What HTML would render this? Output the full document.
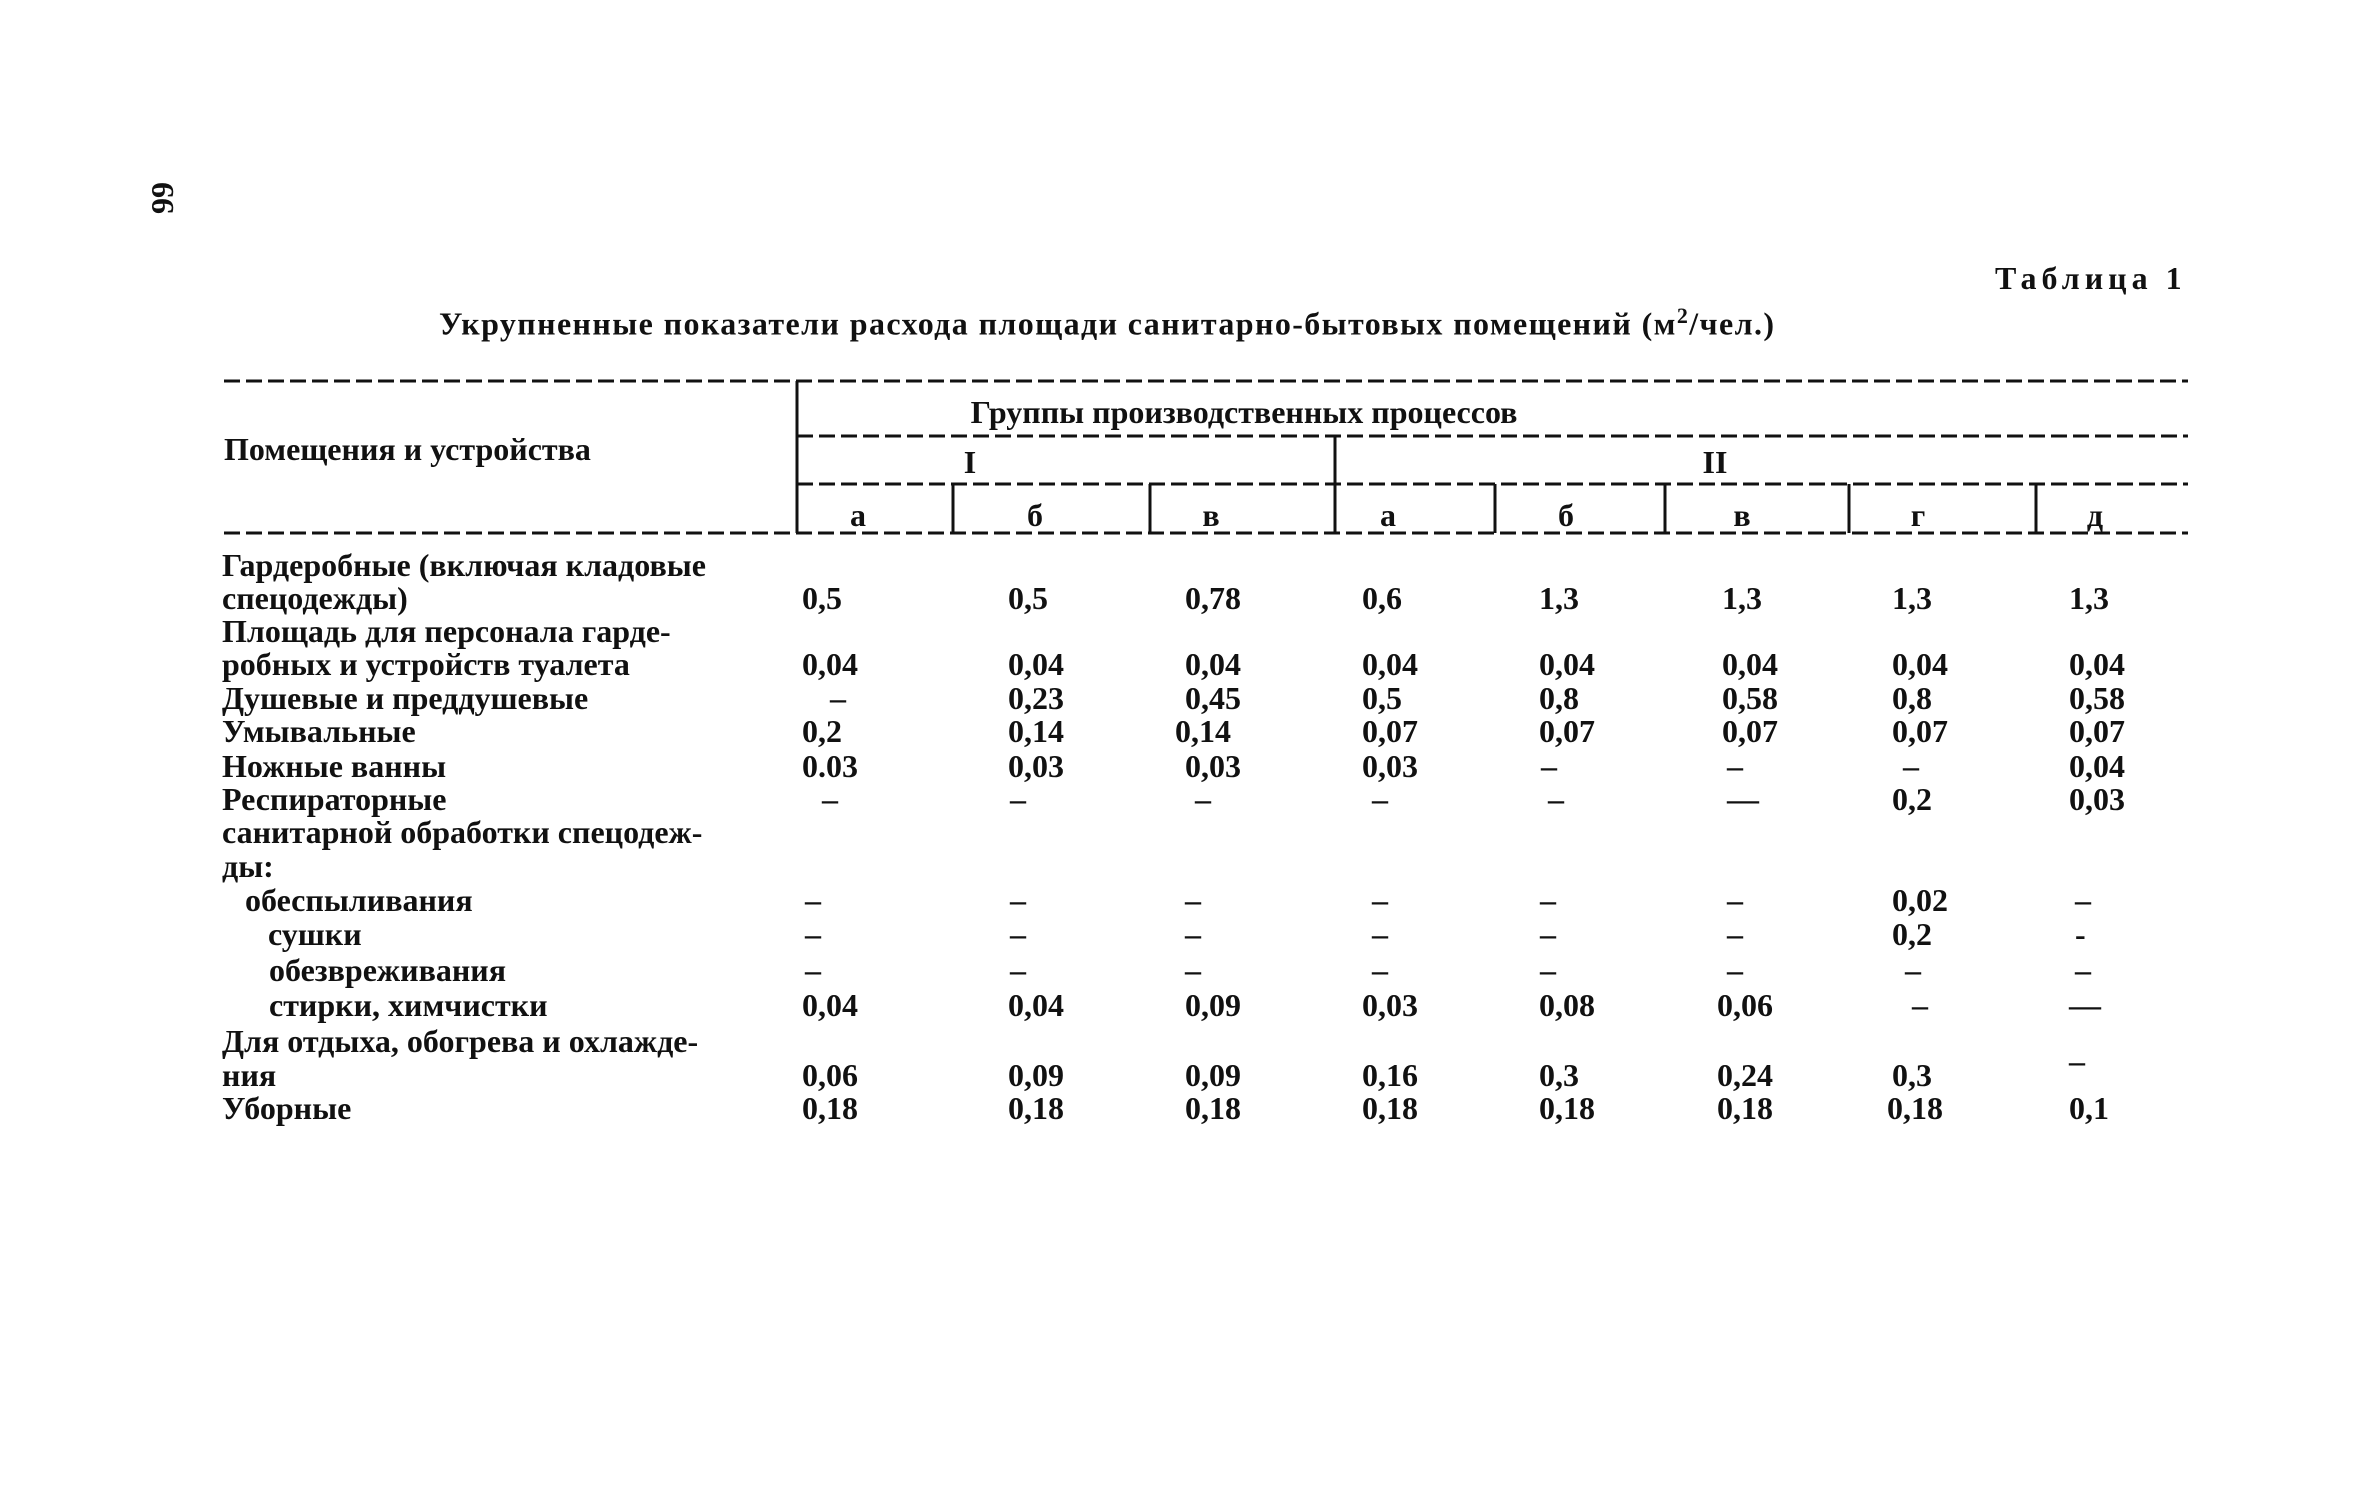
<!DOCTYPE html>
<html><head><meta charset="utf-8">
<style>
html,body{margin:0;padding:0;background:#fff;}
body{width:2361px;height:1500px;position:relative;overflow:hidden;font-family:"Liberation Serif",serif;font-weight:bold;color:#111;}
.t{position:absolute;font-size:32px;line-height:32px;white-space:nowrap;}
.c{transform:translateX(-50%);}
svg{position:absolute;left:0;top:0;}
</style></head><body>
<svg width="2361" height="1500">
<g stroke="#111" stroke-width="3" stroke-dasharray="16 6" fill="none">
<line x1="224" y1="381" x2="2188" y2="381"/>
<line x1="797" y1="436" x2="2188" y2="436"/>
<line x1="797" y1="484" x2="2188" y2="484"/>
<line x1="224" y1="533" x2="2188" y2="533"/>
</g>
<g stroke="#111" stroke-width="3">
<line x1="797" y1="381" x2="797" y2="533"/>
<line x1="1335" y1="436" x2="1335" y2="533"/>
<line x1="953" y1="484" x2="953" y2="533"/>
<line x1="1150" y1="484" x2="1150" y2="533"/>
<line x1="1495" y1="484" x2="1495" y2="533"/>
<line x1="1665" y1="484" x2="1665" y2="533"/>
<line x1="1849" y1="484" x2="1849" y2="533"/>
<line x1="2036" y1="484" x2="2036" y2="533"/>
</g>
</svg>

<div class="t" style="left:146px;top:182px;transform:rotate(-90deg);">99</div>
<div class="t" style="left:1995px;top:262px;letter-spacing:5px;">Таблица 1</div>
<div class="t" style="left:439px;top:300px;letter-spacing:1.4px;">Укрупненные показатели расхода площади санитарно-бытовых помещений (м<sup style="font-size:22px">2</sup>/чел.)</div>

<div class="t c" style="left:1244px;top:396px;">Группы производственных процессов</div>
<div class="t" style="left:224px;top:433px;">Помещения и устройства</div>
<div class="t c" style="left:970px;top:446px;">I</div>
<div class="t c" style="left:1715px;top:446px;">II</div>
<div class="t c" style="left:858px;top:499px;">а</div>
<div class="t c" style="left:1035px;top:499px;">б</div>
<div class="t c" style="left:1211px;top:499px;">в</div>
<div class="t c" style="left:1388px;top:499px;">а</div>
<div class="t c" style="left:1566px;top:499px;">б</div>
<div class="t c" style="left:1742px;top:499px;">в</div>
<div class="t c" style="left:1918px;top:499px;">г</div>
<div class="t c" style="left:2095px;top:499px;">д</div>

<div class="t" style="left:222px;top:549px;">Гардеробные (включая кладовые</div>
<div class="t" style="left:222px;top:582px;">спецодежды)</div>
<div class="t" style="left:222px;top:615px;">Площадь для персонала гарде-</div>
<div class="t" style="left:222px;top:648px;">робных и устройств туалета</div>
<div class="t" style="left:222px;top:682px;">Душевые и преддушевые</div>
<div class="t" style="left:222px;top:715px;">Умывальные</div>
<div class="t" style="left:222px;top:750px;">Ножные ванны</div>
<div class="t" style="left:222px;top:783px;">Респираторные</div>
<div class="t" style="left:222px;top:816px;">санитарной обработки спецодеж-</div>
<div class="t" style="left:222px;top:850px;">ды:</div>
<div class="t" style="left:245px;top:884px;">обеспыливания</div>
<div class="t" style="left:268px;top:918px;">сушки</div>
<div class="t" style="left:269px;top:954px;">обезвреживания</div>
<div class="t" style="left:269px;top:989px;">стирки, химчистки</div>
<div class="t" style="left:222px;top:1025px;">Для отдыха, обогрева и охлажде-</div>
<div class="t" style="left:222px;top:1059px;">ния</div>
<div class="t" style="left:222px;top:1092px;">Уборные</div>

<div class="t" style="left:802px;top:582px;">0,5</div><div class="t" style="left:1008px;top:582px;">0,5</div><div class="t" style="left:1185px;top:582px;">0,78</div><div class="t" style="left:1362px;top:582px;">0,6</div><div class="t" style="left:1539px;top:582px;">1,3</div><div class="t" style="left:1722px;top:582px;">1,3</div><div class="t" style="left:1892px;top:582px;">1,3</div><div class="t" style="left:2069px;top:582px;">1,3</div>

<div class="t" style="left:802px;top:648px;">0,04</div><div class="t" style="left:1008px;top:648px;">0,04</div><div class="t" style="left:1185px;top:648px;">0,04</div><div class="t" style="left:1362px;top:648px;">0,04</div><div class="t" style="left:1539px;top:648px;">0,04</div><div class="t" style="left:1722px;top:648px;">0,04</div><div class="t" style="left:1892px;top:648px;">0,04</div><div class="t" style="left:2069px;top:648px;">0,04</div>

<div class="t" style="left:830px;top:682px;">–</div><div class="t" style="left:1008px;top:682px;">0,23</div><div class="t" style="left:1185px;top:682px;">0,45</div><div class="t" style="left:1362px;top:682px;">0,5</div><div class="t" style="left:1539px;top:682px;">0,8</div><div class="t" style="left:1722px;top:682px;">0,58</div><div class="t" style="left:1892px;top:682px;">0,8</div><div class="t" style="left:2069px;top:682px;">0,58</div>

<div class="t" style="left:802px;top:715px;">0,2</div><div class="t" style="left:1008px;top:715px;">0,14</div><div class="t" style="left:1175px;top:715px;">0,14</div><div class="t" style="left:1362px;top:715px;">0,07</div><div class="t" style="left:1539px;top:715px;">0,07</div><div class="t" style="left:1722px;top:715px;">0,07</div><div class="t" style="left:1892px;top:715px;">0,07</div><div class="t" style="left:2069px;top:715px;">0,07</div>

<div class="t" style="left:802px;top:750px;">0.03</div><div class="t" style="left:1008px;top:750px;">0,03</div><div class="t" style="left:1185px;top:750px;">0,03</div><div class="t" style="left:1362px;top:750px;">0,03</div><div class="t" style="left:1541px;top:750px;">–</div><div class="t" style="left:1727px;top:750px;">–</div><div class="t" style="left:1903px;top:750px;">–</div><div class="t" style="left:2069px;top:750px;">0,04</div>

<div class="t" style="left:822px;top:783px;">–</div><div class="t" style="left:1010px;top:783px;">–</div><div class="t" style="left:1195px;top:783px;">–</div><div class="t" style="left:1372px;top:783px;">–</div><div class="t" style="left:1548px;top:783px;">–</div><div class="t" style="left:1727px;top:783px;">—</div><div class="t" style="left:1892px;top:783px;">0,2</div><div class="t" style="left:2069px;top:783px;">0,03</div>

<div class="t" style="left:805px;top:884px;">–</div><div class="t" style="left:1010px;top:884px;">–</div><div class="t" style="left:1185px;top:884px;">–</div><div class="t" style="left:1372px;top:884px;">–</div><div class="t" style="left:1540px;top:884px;">–</div><div class="t" style="left:1727px;top:884px;">–</div><div class="t" style="left:1892px;top:884px;">0,02</div><div class="t" style="left:2075px;top:884px;">–</div>

<div class="t" style="left:805px;top:918px;">–</div><div class="t" style="left:1010px;top:918px;">–</div><div class="t" style="left:1185px;top:918px;">–</div><div class="t" style="left:1372px;top:918px;">–</div><div class="t" style="left:1540px;top:918px;">–</div><div class="t" style="left:1727px;top:918px;">–</div><div class="t" style="left:1892px;top:918px;">0,2</div><div class="t" style="left:2075px;top:918px;">-</div>

<div class="t" style="left:805px;top:954px;">–</div><div class="t" style="left:1010px;top:954px;">–</div><div class="t" style="left:1185px;top:954px;">–</div><div class="t" style="left:1372px;top:954px;">–</div><div class="t" style="left:1540px;top:954px;">–</div><div class="t" style="left:1727px;top:954px;">–</div><div class="t" style="left:1905px;top:954px;">–</div><div class="t" style="left:2075px;top:954px;">–</div>

<div class="t" style="left:802px;top:989px;">0,04</div><div class="t" style="left:1008px;top:989px;">0,04</div><div class="t" style="left:1185px;top:989px;">0,09</div><div class="t" style="left:1362px;top:989px;">0,03</div><div class="t" style="left:1539px;top:989px;">0,08</div><div class="t" style="left:1717px;top:989px;">0,06</div><div class="t" style="left:1912px;top:989px;">–</div><div class="t" style="left:2069px;top:989px;">—</div>

<div class="t" style="left:802px;top:1059px;">0,06</div><div class="t" style="left:1008px;top:1059px;">0,09</div><div class="t" style="left:1185px;top:1059px;">0,09</div><div class="t" style="left:1362px;top:1059px;">0,16</div><div class="t" style="left:1539px;top:1059px;">0,3</div><div class="t" style="left:1717px;top:1059px;">0,24</div><div class="t" style="left:1892px;top:1059px;">0,3</div><div class="t" style="left:2069px;top:1045px;">–</div>

<div class="t" style="left:802px;top:1092px;">0,18</div><div class="t" style="left:1008px;top:1092px;">0,18</div><div class="t" style="left:1185px;top:1092px;">0,18</div><div class="t" style="left:1362px;top:1092px;">0,18</div><div class="t" style="left:1539px;top:1092px;">0,18</div><div class="t" style="left:1717px;top:1092px;">0,18</div><div class="t" style="left:1887px;top:1092px;">0,18</div><div class="t" style="left:2069px;top:1092px;">0,1</div>
</body></html>
